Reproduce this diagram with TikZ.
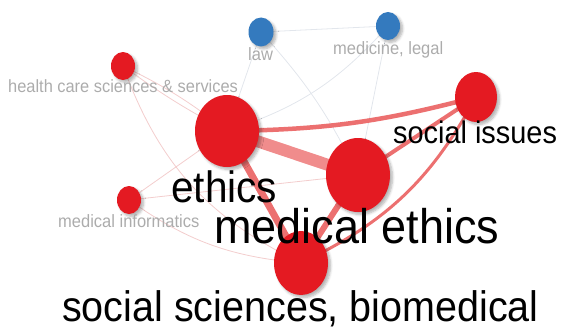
\documentclass[tikz,border=0pt]{standalone}
\usepackage{fontspec}
\setmainfont{Liberation Sans}
\usetikzlibrary{shapes.geometric,shadows.blur}
\definecolor{nodered}{RGB}{228,26,34}
\definecolor{nodeblue}{RGB}{52,122,190}
\definecolor{edgered}{RGB}{236,112,112}
\definecolor{edgethick}{RGB}{240,140,140}
\definecolor{edgelight}{RGB}{243,205,205}
\definecolor{edgegray}{RGB}{226,230,236}
\definecolor{labelgray}{RGB}{172,172,172}
\pgfdeclarelayer{bg}
\pgfsetlayers{bg,main}
\newcommand{\lbl}[2]{\fontsize{#1}{#1}\selectfont\scalebox{1}[1.08]{#2}}
\begin{document}
\begin{tikzpicture}[x=1pt,y=-1pt,
  rnode/.style={ellipse, fill=nodered, inner sep=0pt,
    blur shadow={shadow blur steps=6, shadow blur radius=2.5pt, shadow xshift=2.5pt, shadow yshift=-2.5pt, shadow opacity=30}},
  bnode/.style={rnode, fill=nodeblue},
  strong/.style={draw=edgered, line cap=round},
  faint/.style={draw=edgelight, line width=0.8pt},
  faintgray/.style={draw=edgegray, line width=0.8pt},
  graylbl/.style={anchor=base west, inner sep=0pt, text=labelgray},
  blacklbl/.style={anchor=base west, inner sep=0pt, text=black}
]
\useasboundingbox (0,0) rectangle (561,329);

% nodes
\node[rnode, minimum width=64pt, minimum height=72pt] (eth) at (227,131) {};
\node[rnode, minimum width=64pt, minimum height=74pt] (med) at (358,175) {};
\node[rnode, minimum width=54pt, minimum height=64pt] (ssb) at (301,263) {};
\node[rnode, minimum width=42pt, minimum height=50pt] (soc) at (476,97) {};
\node[rnode, minimum width=24pt, minimum height=28pt] (hc) at (123,66) {};
\node[bnode, minimum width=25pt, minimum height=29pt] (law) at (261,32) {};
\node[bnode, minimum width=24pt, minimum height=28pt] (ml) at (388,26) {};
\node[rnode, minimum width=24pt, minimum height=28pt] (mi) at (129,200) {};

% edges
\begin{pgfonlayer}{bg}
\draw[faintgray] (law.center) -- (ml.center);
\draw[faintgray] (law.center) -- (eth.center);
\draw[faintgray] (law.center) to[bend left=8] (med.center);
\draw[faintgray] (ml.center) to[bend left=15] (eth.center);
\draw[faintgray] (ml.center) -- (med.center);
\draw[faint] (hc.center) to[bend left=6] (eth.center);
\draw[faint] (hc.center) to[bend right=4] (eth.center);
\draw[faint] (hc.center) to[bend right=22] (ssb.center);
\draw[faint] (mi.center) -- (eth.center);
\draw[faint] (mi.center) -- (med.center);
\draw[faint] (mi.center) to[bend right=15] (ssb.center);
\draw[strong, line width=12pt, draw=edgethick] (eth.center) -- (med.center);
\draw[strong, line width=4.5pt] (eth.center) to[bend right=7] (soc.center);
\draw[strong, line width=7pt] (eth.center) -- (ssb.center);
\draw[strong, line width=6pt] (med.center) -- (ssb.center);
\draw[strong, line width=4pt] (med.center) -- (soc.center);
\draw[strong, line width=3pt] (ssb.center) to[bend right=18] (soc.center);
\end{pgfonlayer}

% labels
\node[graylbl] (hcl) at (8,92) {\lbl{16.4}{health care sciences \& services}};
\node[graylbl] (lawl) at (248,60) {\lbl{16.5}{law}};
\node[graylbl] (mll) at (333,55) {\lbl{16.5}{medicine, legal}};
\node[graylbl] (mil) at (58,227) {\lbl{16.5}{medical informatics}};
\node[blacklbl] (socl) at (393,143) {\lbl{28.9}{social issues}};
\node[blacklbl] (ethl) at (171,202) {\lbl{40.6}{ethics}};
\node[blacklbl] (medl) at (214,243) {\lbl{45}{medical ethics}};
\node[blacklbl] (ssbl) at (62,321) {\lbl{39.5}{social sciences, biomedical}};
\end{tikzpicture}
\end{document}
